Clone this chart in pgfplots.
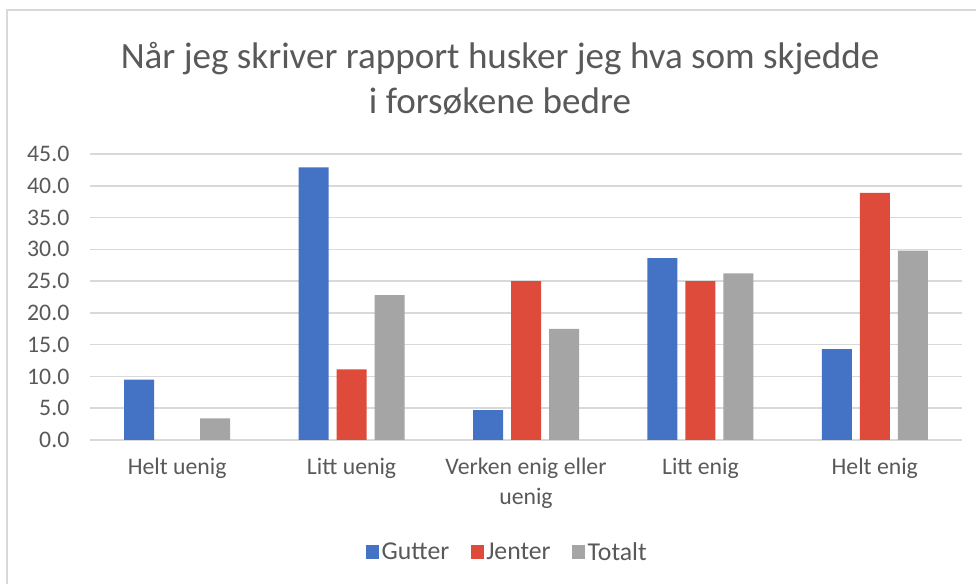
\documentclass[border=0pt]{standalone}
\usepackage{pgfplots}
\pgfplotsset{compat=1.18}
\usepackage{fontspec}
\setmainfont{Carlito}
\definecolor{cblue}{HTML}{4472C4}
\definecolor{cred}{HTML}{DE4B3A}
\definecolor{cgray}{HTML}{A5A5A5}
\definecolor{cgrid}{HTML}{D9D9D9}
\definecolor{ctext}{HTML}{595959}
\begin{document}
\begin{tikzpicture}
\path[use as bounding box] (0,0) rectangle (732pt,438pt);
\draw[cgrid, line width=0.8pt] (5.25pt,0) -- (5.25pt,430.5pt) -- (732pt,430.5pt);
\node[text=ctext, align=center, font=\fontsize{27.8pt}{33.75pt}\selectfont] at (375pt,379pt)
  {Når jeg skriver rapport husker jeg hva som skjedde\\i forsøkene bedre};
\begin{axis}[
  at={(67.5pt,108pt)}, anchor=south west,
  scale only axis, width=654pt, height=214.5pt,
  ybar=6pt, bar width=22.5pt,
  xmin=-0.5, xmax=4.5, ymin=0, ymax=45,
  ytick={0,5,...,45},
  xtick={0,1,2,3,4},
  xticklabels={Helt uenig, Litt uenig, Verken enig eller\\uenig, Litt enig, Helt enig},
  axis line style={draw=none},
  major tick length=0pt,
  ymajorgrids, grid style={cgrid, line width=1.2pt},
  /pgf/number format/assume math mode=true,
  yticklabel={\pgfmathprintnumber[fixed,fixed zerofill,precision=1]{\tick}},
  ticklabel style={text=ctext, font=\fontsize{17.8pt}{22.5pt}\selectfont},
  yticklabel style={xshift=-12pt},
  xticklabel style={align=center, yshift=-10pt},
  legend style={at={(axis description cs:0.479,-0.392)}, anchor=center, draw=none,
    legend columns=3, font=\fontsize{19.3pt}{22pt}\selectfont, text=ctext,
    /tikz/every even column/.append style={column sep=14pt},
    /tikz/every node/.append style={inner xsep=2pt}},
  legend image code/.code={\fill[#1] (0pt,-5.25pt) rectangle (9.75pt,5.25pt);},
  enlargelimits=false, clip=false,
]
\addplot[fill=cblue, draw=none] coordinates {(0,9.5) (1,42.9) (2,4.7) (3,28.6) (4,14.3)};
\addplot[fill=cred, draw=none] coordinates {(1,11.1) (2,25.0) (3,25.0) (4,38.9)};
\addplot[fill=cgray, draw=none] coordinates {(0,3.4) (1,22.8) (2,17.5) (3,26.2) (4,29.8)};
\legend{Gutter, Jenter, Totalt}
\end{axis}
\end{tikzpicture}
\end{document}
